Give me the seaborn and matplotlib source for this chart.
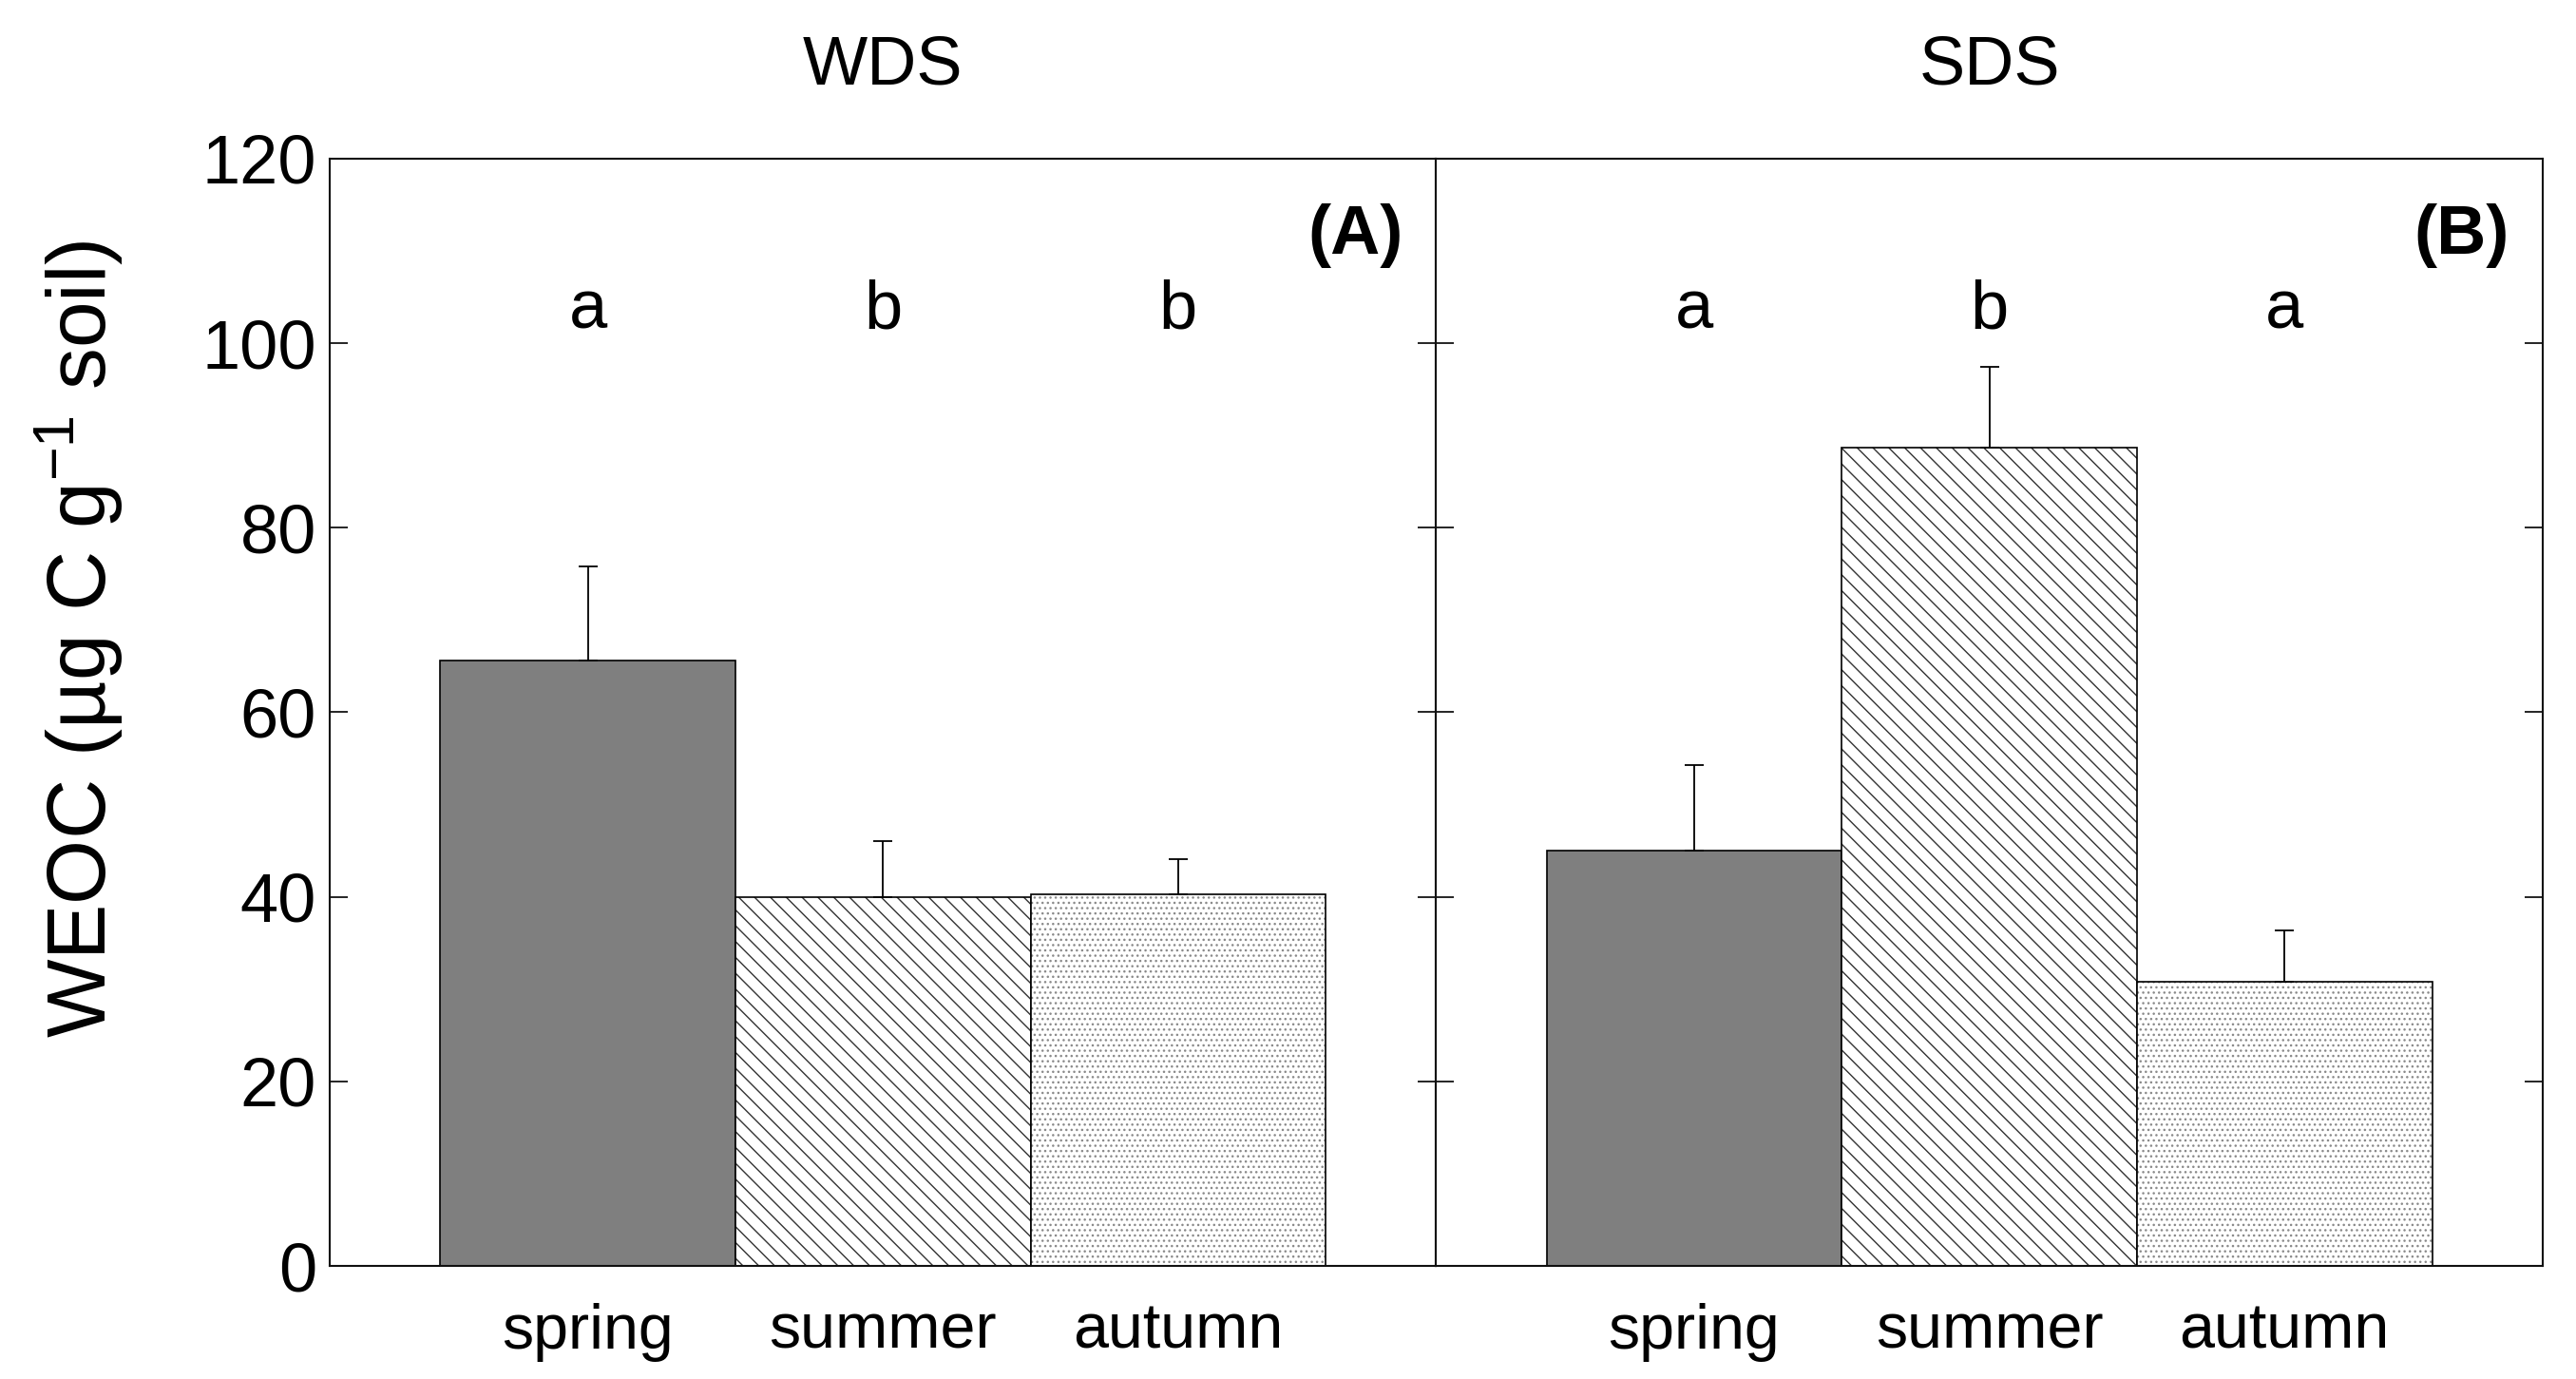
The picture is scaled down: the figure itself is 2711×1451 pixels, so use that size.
import matplotlib
matplotlib.use("Agg")
import matplotlib.pyplot as plt
import matplotlib.colors as mcolors
import numpy as np
import pandas as pd
import seaborn as sns

# data
seasons = ['spring', 'summer', 'autumn']
wds_mean = [65.6, 40.0, 40.3]
wds_se = [10.2, 6.0, 3.8]
sds_mean = [45.0, 88.7, 30.8]
sds_se = [9.3, 8.7, 5.6]
wds_letters = ['a', 'b', 'b']
sds_letters = ['a', 'b', 'a']
panels = ['WDS', 'SDS']
panel_tags = ['(A)', '(B)']

sns.set_style('ticks')
plt.rcParams['font.family'] = ['Liberation Sans', 'DejaVu Sans']
plt.rcParams['mathtext.default'] = 'regular'
plt.rcParams['hatch.linewidth'] = 1.0
plt.rcParams['text.color'] = 'black'
plt.rcParams['xtick.color'] = 'black'
plt.rcParams['ytick.color'] = 'black'
plt.rcParams['axes.labelcolor'] = 'black'

fs = 52
fill = {'spring': '#7f7f7f', 'summer': 'white', 'autumn': 'white'}
hatches = {'spring': '', 'summer': '\\\\', 'autumn': '...'}

fig, axes = plt.subplots(1, 2, figsize=(27.11, 14.51), dpi=100, sharey=True)
fig.subplots_adjust(left=0.128, right=0.987, top=0.885, bottom=0.082, wspace=0)

for i, (ax, means, ses, letters) in enumerate(zip(axes, [wds_mean, sds_mean],
                                                 [wds_se, sds_se],
                                                 [wds_letters, sds_letters])):
    df = pd.DataFrame({'season': seasons, 'weoc': means})
    sns.barplot(data=df, x='season', y='weoc', hue='season', palette=fill,
                width=1.0, errorbar=None, edgecolor='black', linewidth=1.2,
                legend=False, ax=ax)
    for p, s in zip(ax.patches, seasons):
        p.set_hatch(hatches[s])
        if s == 'autumn':
            p._hatch_color = mcolors.to_rgba('#8a8a8a')
        elif s == 'summer':
            p._hatch_color = mcolors.to_rgba('#333333')
    xs = np.arange(len(seasons))
    ax.errorbar(xs, means, yerr=[np.zeros(len(ses)), ses], fmt='none',
                ecolor='black', elinewidth=1.3, capsize=7, capthick=1.3, zorder=3)
    for x, m, l in zip(xs, means, letters):
        ax.text(x, 103.5, l, ha='center', va='center', fontsize=fs)
    ax.text(0.97, 0.93, panel_tags[i], transform=ax.transAxes, ha='right',
            va='center', fontsize=fs, fontweight='bold')
    ax.text(0.5, 1.083, panels[i], transform=ax.transAxes, ha='center',
            va='center', fontsize=fs)

    ax.set_xlim(-0.874, 2.874)
    ax.set_ylim(0, 120)
    ax.set_yticks(np.arange(0, 121, 20))
    ax.set_xlabel('')
    ax.set_ylabel('')
    for sp in ax.spines.values():
        sp.set_visible(True)
        sp.set_linewidth(1.5)
        sp.set_color('#111111')
    ax.tick_params(axis='y', direction='in', length=14, width=1.2,
                   left=True, right=True, labelsize=fs, pad=10)
    ax.tick_params(axis='x', length=0, labelsize=fs * 0.92, pad=28)

axes[1].tick_params(axis='y', labelleft=False)
axes[0].set_ylabel('WEOC (µg C g$^{-1}$ soil)', fontsize=63)
axes[0].yaxis.set_label_coords(-0.226, 0.566)
axes[0].yaxis.label.set_verticalalignment('center')

fig.savefig('out.png', dpi=100)
